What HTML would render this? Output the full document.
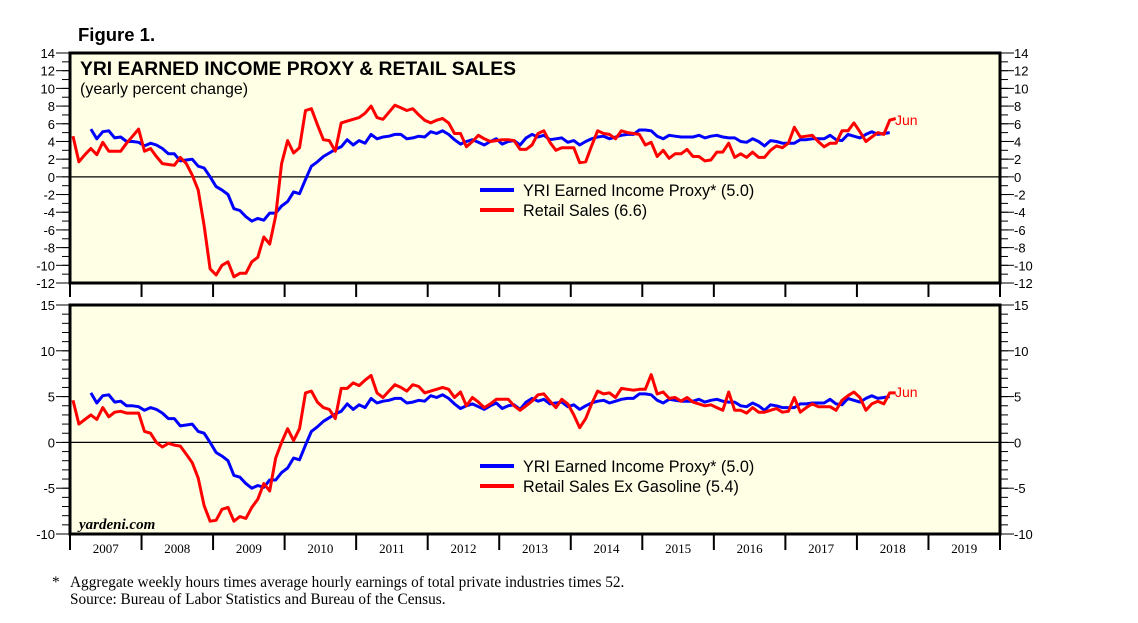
<!DOCTYPE html>
<html><head><meta charset="utf-8"><style>
body{margin:0;background:#fff;width:1138px;height:623px;overflow:hidden}
svg{display:block}
.s{font-family:"Liberation Sans",sans-serif}
.r{font-family:"Liberation Serif",serif}
</style></head><body>
<svg id="c" width="1138" height="623" xmlns="http://www.w3.org/2000/svg"></svg>
<script>
const years=["2007","2008","2009","2010","2011","2012","2013","2014","2015","2016","2017","2018","2019"];
const topTicks=[14,12,10,8,6,4,2,0,-2,-4,-6,-8,-10,-12];
const botTicks=[15,10,5,0,-5,-10];
const incomeProxy=[null,null,null,5.4,4.3,5.1,5.2,4.4,4.5,4.0,4.0,3.9,3.5,3.8,3.6,3.2,2.6,2.6,1.8,1.9,2.0,1.2,1.0,0.0,-1.1,-1.5,-2.0,-3.6,-3.8,-4.5,-5.0,-4.7,-4.9,-4.1,-4.1,-3.3,-2.8,-1.7,-1.9,-0.3,1.2,1.7,2.3,2.7,3.1,3.4,4.2,3.6,4.1,3.8,4.8,4.3,4.5,4.6,4.8,4.8,4.3,4.4,4.6,4.5,5.1,4.9,5.2,4.8,4.2,3.7,4.0,4.2,3.9,3.6,4.0,4.3,3.7,4.0,4.1,3.6,4.4,4.8,4.5,4.7,4.2,4.3,4.4,3.9,4.1,3.6,4.0,4.3,4.5,4.6,4.3,4.5,4.7,4.8,4.8,5.3,5.3,5.2,4.6,4.3,4.7,4.6,4.5,4.5,4.5,4.7,4.4,4.6,4.7,4.5,4.4,4.4,4.0,3.9,4.3,4.0,3.5,4.1,4.0,3.8,3.8,3.8,4.2,4.2,4.3,4.3,4.3,4.7,4.2,4.1,4.8,4.6,4.4,4.8,5.1,4.8,4.9,5.0];
const retailSales=[4.6,1.7,2.5,3.2,2.5,3.9,2.9,2.9,2.9,3.8,4.6,5.4,2.9,3.2,2.3,1.5,1.4,1.3,2.2,1.5,0.2,-1.5,-5.5,-10.4,-11.1,-10,-9.6,-11.3,-10.9,-10.9,-9.6,-9.1,-6.8,-7.6,-4.4,1.5,4.1,2.7,3.3,7.5,7.7,5.9,4.2,4.1,2.9,6.1,6.3,6.5,6.7,7.2,8.0,6.7,6.5,7.3,8.1,7.8,7.5,7.7,7.0,6.4,6.1,6.4,6.6,6.1,4.9,4.9,3.4,4.0,4.7,4.3,4.0,4.1,4.2,4.2,4.1,3.1,3.1,3.6,4.9,5.2,3.9,3.0,3.3,3.3,3.3,1.6,1.7,3.5,5.2,4.9,4.8,4.3,5.2,5.0,4.9,4.8,3.6,3.9,2.3,3.0,2.1,2.6,2.6,3.1,2.3,2.3,1.8,1.9,2.8,2.8,3.8,2.2,2.6,2.2,2.8,2.2,2.2,3.0,3.5,3.3,3.8,5.6,4.5,4.6,4.7,4.0,3.4,3.8,3.8,5.2,5.2,6.1,5.1,4.0,4.5,5.0,4.8,6.4,6.6];
const retailExGas=[4.6,2.0,2.5,3.0,2.5,3.8,2.8,3.3,3.4,3.2,3.2,3.2,1.2,1.0,0.0,-0.5,-0.1,-0.3,-0.4,-1.3,-2.2,-3.9,-6.9,-8.6,-8.5,-7.3,-7.1,-8.6,-8.1,-8.3,-7.1,-6.2,-4.5,-5.3,-1.7,0.0,1.5,0.2,1.5,5.4,5.6,4.4,3.8,3.6,2.6,5.9,5.9,6.5,6.2,6.8,7.3,5.4,4.9,5.6,6.3,6.0,5.6,6.3,6.1,5.4,5.6,5.8,6.0,5.8,4.9,5.5,4.0,4.9,4.4,3.8,4.2,4.7,4.7,4.7,4.0,3.5,4.0,4.5,5.2,5.3,4.5,3.8,4.7,4.2,3.0,1.6,2.6,4.2,5.6,5.3,5.4,4.9,5.9,5.8,5.7,5.8,5.8,7.4,5.3,5.5,4.8,4.9,4.5,4.9,4.4,4.2,4.0,4.1,3.8,3.5,5.5,3.5,3.5,3.2,3.8,3.3,3.3,3.5,3.7,3.3,3.4,4.9,3.3,3.8,4.2,3.9,3.9,3.9,3.5,4.6,5.1,5.5,4.9,3.5,4.2,4.5,4.2,5.4,5.4];

const NS="http://www.w3.org/2000/svg";
const svg=document.getElementById('c');
function mk(t,a,txt){const e=document.createElementNS(NS,t);for(const k in a)e.setAttribute(k,a[k]);if(txt!==undefined)e.textContent=txt;svg.appendChild(e);return e;}
const X0=70,X1=1000,YW=(X1-X0)/13;
const xM=i=>X0+YW*(i+0.5)/12;
const P1={top:53,bot:283,max:14,min:-12};
const P2={top:305,bot:534,max:15,min:-10};
const yS=(p,v)=>p.top+(p.max-v)*(p.bot-p.top)/(p.max-p.min);

function panel(p,ticks,step,name){
  let r=mk('rect',{x:X0,y:p.top,width:X1-X0,height:p.bot-p.top,fill:'#ffffe6',stroke:'#000','stroke-width':3});
  
  for(let v=p.min;v<=p.max;v+=step){
    const y=yS(p,v);
    mk('line',{x1:X0-8,x2:X0,y1:y,y2:y,stroke:'#000','stroke-width':1});
    mk('line',{x1:X1,x2:X1+8,y1:y,y2:y,stroke:'#000','stroke-width':1});
  }
  ticks.forEach(v=>{
    const y=yS(p,v);
    mk('line',{x1:X0-14,x2:X0,y1:y,y2:y,stroke:'#000','stroke-width':1});
    mk('line',{x1:X1,x2:X1+14,y1:y,y2:y,stroke:'#000','stroke-width':1});
    let t=mk('text',{x:X0-15,y:y+5,'text-anchor':'end','font-size':13,class:'s'},String(v));
    
    t=mk('text',{x:X1+14,y:y+5,'font-size':13,class:'s'},String(v));
    
  });
  const z=yS(p,0);
  mk('line',{x1:X0,x2:X1,y1:z,y2:z,stroke:'#000','stroke-width':1.2});
}
function series(p,arr,color,name){
  let d='';arr.forEach((v,i)=>{if(v===null)return;d+=(d?'L':'M')+xM(i).toFixed(1)+','+yS(p,v).toFixed(1);});
  const e=mk('path',{d:d,fill:'none',stroke:color,'stroke-width':3,'stroke-linejoin':'round'});
  
}
panel(P1,topTicks,1,'top');
panel(P2,botTicks,1,'bottom');
for(let k=0;k<=13;k++){const x=X0+YW*k;
  mk('line',{x1:x,x2:x,y1:283,y2:297,stroke:'#000','stroke-width':2});
  mk('line',{x1:x,x2:x,y1:534,y2:550,stroke:'#000','stroke-width':2});}
years.forEach((y,k)=>{const t=mk('text',{x:X0+YW*(k+0.5),y:553,'text-anchor':'middle','font-size':13,class:'r'},y);
  });
series(P1,incomeProxy,'#0000ff','top-income-proxy-line');
series(P1,retailSales,'#ff0000','top-retail-sales-line');
series(P2,incomeProxy,'#0000ff','bottom-income-proxy-line');
series(P2,retailExGas,'#ff0000','bottom-retail-ex-gas-line');
function txt(a,s,name){const t=mk('text',a,s);return t;}
txt({x:895,y:yS(P1,retailSales[137])+5,'font-size':14,fill:'#ff0000',class:'s'},'Jun','top-jun-label');
txt({x:895,y:yS(P2,retailExGas[137])+4,'font-size':14,fill:'#ff0000',class:'s'},'Jun','bottom-jun-label');
txt({x:78,y:41,'font-size':18.5,'font-weight':'bold',class:'s'},'Figure 1.','figure-label');
txt({x:80,y:75,'font-size':19.3,'font-weight':'bold',class:'s'},'YRI EARNED INCOME PROXY & RETAIL SALES','chart-title');
txt({x:80,y:94,'font-size':16,class:'s'},'(yearly percent change)','chart-subtitle');
function leg(y,color,label,name){
  const l=mk('line',{x1:480,x2:514,y1:y,y2:y,stroke:color,'stroke-width':4});
  
  txt({x:523,y:y+6,'font-size':16.2,class:'s'},label,name);
}
leg(190,'#0000ff','YRI Earned Income Proxy* (5.0)','legend-top-income');
leg(210,'#ff0000','Retail Sales (6.6)','legend-top-retail');
leg(466,'#0000ff','YRI Earned Income Proxy* (5.0)','legend-bottom-income');
leg(486,'#ff0000','Retail Sales Ex Gasoline (5.4)','legend-bottom-retail');
txt({x:79,y:529,'font-size':15,'font-style':'italic','font-weight':'bold',class:'r'},'yardeni.com','watermark');
txt({x:52,y:587,'font-size':15.3,class:'r'},'*','footnote-star');
txt({x:70,y:587,'font-size':15.3,class:'r'},'Aggregate weekly hours times average hourly earnings of total private industries times 52.','footnote');
txt({x:70,y:604,'font-size':15.3,class:'r'},'Source: Bureau of Labor Statistics and Bureau of the Census.','source-note');
</script>
</body></html>
